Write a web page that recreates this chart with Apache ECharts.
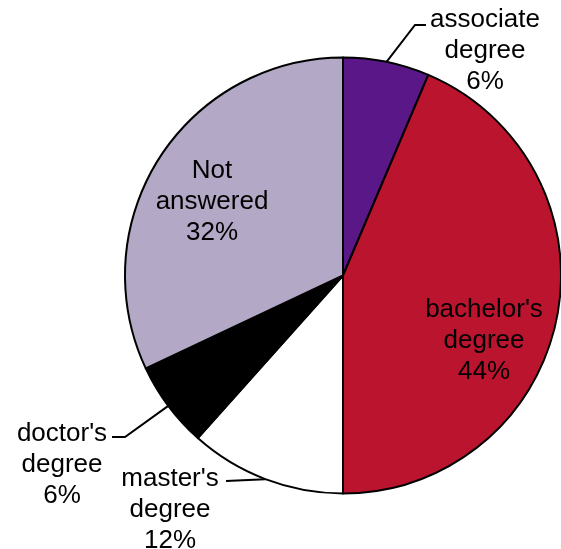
<!DOCTYPE html>
<html>
<head>
<meta charset="utf-8">
<script src="https://cdn.jsdelivr.net/npm/echarts@6/dist/echarts.min.js"></script>
<style>
html,body{margin:0;padding:0;background:#fff;}
#chart{width:561px;height:549px;}
</style>
</head>
<body>
<div id="chart"></div>
<script>
// Data
var categories = ["associate degree", "bachelor's degree", "master's degree", "doctor's degree", "Not answered"];
var values = [6.4, 43.6, 11.6, 6.4, 32.0];

// Styles / layout (not data)
var colors = ['#591787', '#BA142E', '#FFFFFF', '#000000', '#B3A8C5'];
var insideSlices = [false, true, false, false, true];
var labelPos = [[485, 51], [484, 341], [170, 510], [62, 465], [212, 202]];
var lineBends = [
  [[415, 25], [426, 25]],
  null,
  [[226, 481]],
  [[125, 437], [112, 437]],
  null
];

var chart = echarts.init(document.getElementById('chart'), null, {renderer: 'canvas'});

var data = categories.map(function (c, i) {
  return {
    name: c,
    value: values[i],
    itemStyle: {color: colors[i]},
    labelLine: {show: !insideSlices[i]}
  };
});

chart.setOption({
  animation: false,
  series: [{
    type: 'pie',
    center: [343, 275.5],
    radius: 218,
    startAngle: 90,
    clockwise: true,
    avoidLabelOverlap: false,
    itemStyle: {borderColor: '#000', borderWidth: 2},
    emphasis: {disabled: true},
    label: {
      show: true,
      position: 'outside',
      fontFamily: 'Liberation Sans, Arial, sans-serif',
      fontSize: 26,
      lineHeight: 31,
      color: '#000',
      align: 'center',
      formatter: function (p) {
        return p.name.replace(' ', '\n') + '\n' + Math.round(p.percent) + '%';
      }
    },
    labelLine: {
      show: true,
      length: 20,
      length2: 10,
      lineStyle: {color: '#000', width: 2}
    },
    labelLayout: function (params) {
      var i = params.dataIndex;
      var res = {
        x: labelPos[i][0],
        y: labelPos[i][1],
        align: 'center',
        verticalAlign: 'middle'
      };
      if (lineBends[i] && params.labelLinePoints) {
        var p0 = params.labelLinePoints[0];
        res.labelLinePoints = [p0].concat(lineBends[i]);
      }
      return res;
    },
    data: data
  }]
});
</script>
</body>
</html>
